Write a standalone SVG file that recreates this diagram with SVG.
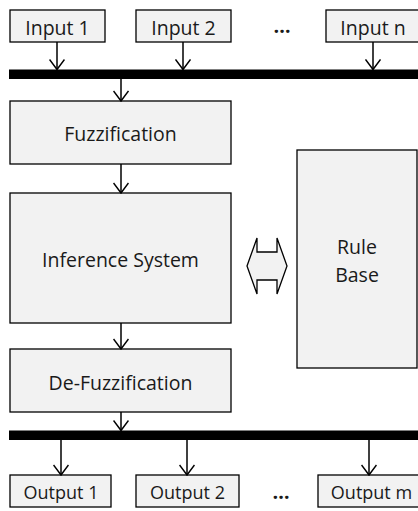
<svg xmlns="http://www.w3.org/2000/svg" width="418" height="511" viewBox="0 0 418 511">
  <style>
    .box { fill: #f2f2f2; stroke: #000; stroke-width: 1.3; }
    .lbl { font-family: "Open Sans", "Liberation Sans", sans-serif; font-size: 19.5px; fill: #1a1a1a; text-anchor: middle; dominant-baseline: central; font-variant-ligatures: none; }
    .out { font-size: 18px; }
    .dots { font-family: "Open Sans", "Liberation Sans", sans-serif; font-size: 20px; font-weight: bold; fill: #1a1a1a; text-anchor: middle; }
    .bus { fill: #000; }
    .arr { stroke: #000; stroke-width: 1.5; fill: none; marker-end: url(#head); }
  </style>
  <defs>
    <marker id="head" viewBox="0 0 16 12" refX="8" refY="11" markerWidth="16" markerHeight="12" markerUnits="userSpaceOnUse" orient="0">
      <path d="M0.5 1 L8 11 L15.5 1" fill="none" stroke="#000" stroke-width="1.5"/>
    </marker>
  </defs>

  <!-- inputs -->
  <g id="input1"><rect class="box" x="10" y="10" width="95" height="32"/><text class="lbl" x="57.5" y="27">Input 1</text></g>
  <g id="input2"><rect class="box" x="136" y="10" width="95" height="32"/><text class="lbl" x="183.5" y="27">Input 2</text></g>
  <g id="input-dots"><text class="dots" x="282" y="33">…</text></g>
  <g id="inputn"><rect class="box" x="326" y="10" width="95" height="32"/><text class="lbl" x="373" y="27">Input n</text></g>

  <!-- buses -->
  <g id="input-bus"><rect class="bus" x="9" y="69.5" width="412" height="9.5"/></g>
  <g id="output-bus"><rect class="bus" x="9" y="430.5" width="412" height="9.5"/></g>

  <!-- processing chain -->
  <g id="fuzzification"><rect class="box" x="10" y="101" width="221" height="63"/><text class="lbl" x="120.5" y="133.5">Fuzzification</text></g>
  <g id="inference"><rect class="box" x="10" y="193" width="221" height="130"/><text class="lbl" x="120.5" y="259.5">Inference System</text></g>
  <g id="defuzzification"><rect class="box" x="10" y="349" width="221" height="63"/><text class="lbl" x="120.5" y="382">De-Fuzzification</text></g>
  <g id="rulebase"><rect class="box" x="297" y="150" width="120" height="218"/><text class="lbl" x="357" y="246">Rule</text><text class="lbl" x="357" y="274">Base</text></g>

  <!-- outputs -->
  <g id="output1"><rect class="box" x="10" y="475" width="101" height="32"/><text class="lbl out" x="61" y="491.5">Output 1</text></g>
  <g id="output2"><rect class="box" x="136" y="475" width="103" height="32"/><text class="lbl out" x="187.5" y="491.5">Output 2</text></g>
  <g id="output-dots"><text class="dots" x="281" y="499">…</text></g>
  <g id="outputm"><rect class="box" x="318" y="475" width="103" height="32"/><text class="lbl out" x="371.5" y="491.5">Output m</text></g>

  <g id="connectors">
    <line class="arr" x1="57" y1="42" x2="57" y2="69.5"/>
    <line class="arr" x1="183" y1="42" x2="183" y2="69.5"/>
    <line class="arr" x1="373" y1="42" x2="373" y2="69.5"/>
    <line class="arr" x1="121" y1="79" x2="121" y2="101"/>
    <line class="arr" x1="121" y1="164" x2="121" y2="193"/>
    <line class="arr" x1="121" y1="323" x2="121" y2="349"/>
    <line class="arr" x1="121" y1="412" x2="121" y2="430.5"/>
    <line class="arr" x1="61" y1="440" x2="61" y2="475"/>
    <line class="arr" x1="187" y1="440" x2="187" y2="475"/>
    <line class="arr" x1="369" y1="440" x2="369" y2="475"/>
    <!-- bidirectional link between inference and rule base -->
    <path class="box" d="M247 266 L257 238 L257 252 L277 252 L277 238 L287 266 L277 294 L277 280 L257 280 L257 294 Z"/>
  </g>
</svg>
